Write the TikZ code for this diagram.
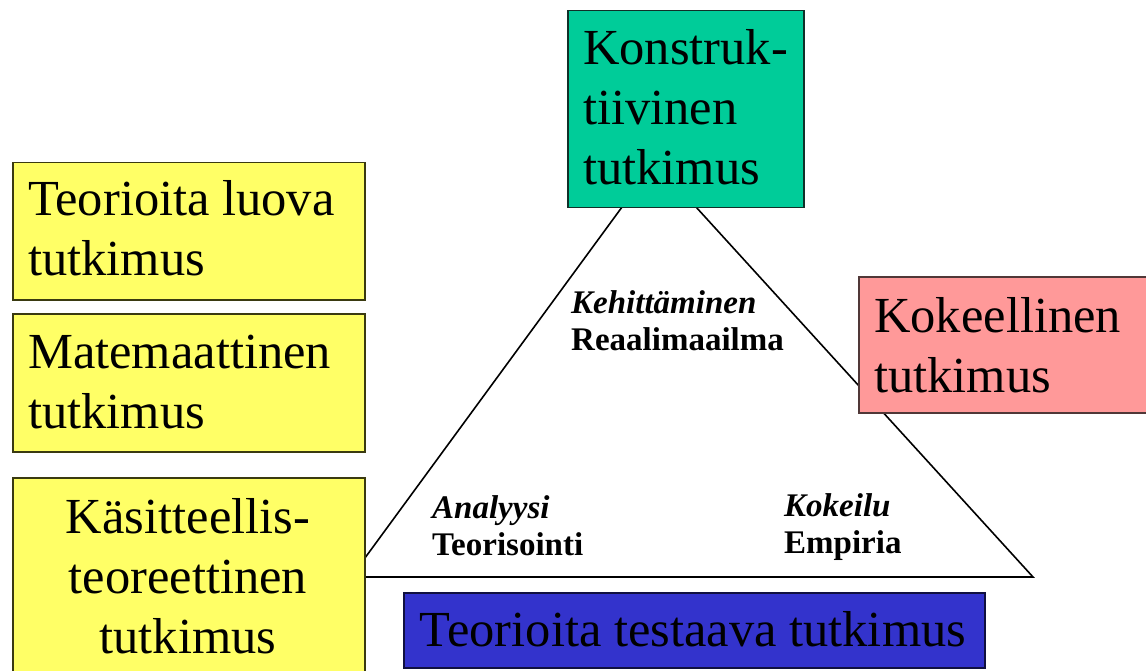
\documentclass[tikz,border=0pt]{standalone}
\usepackage{fontspec}
\setmainfont{Liberation Serif}
\definecolor{yfill}{HTML}{FFFF66}
\definecolor{yline}{HTML}{3A3A10}
\definecolor{gfill}{HTML}{00CC99}
\definecolor{gline}{HTML}{103028}
\definecolor{pfill}{HTML}{FF9999}
\definecolor{pline}{HTML}{503838}
\definecolor{bfill}{HTML}{3333CC}
\definecolor{bline}{HTML}{101040}
\newcommand{\lines}[2]{\begin{tabular}[t]{@{}#1@{}}#2\end{tabular}}
\begin{document}
\begin{tikzpicture}[x=1pt,y=-1pt,
  box/.style={line width=1.5pt, anchor=north west, inner sep=0pt},
  big/.style={inner sep=0pt, font=\fontsize{50.5}{60}\selectfont},
  small/.style={inner sep=0pt, font=\fontsize{33}{37}\selectfont\bfseries},
  tri/.style={line width=1.6pt, draw=black}]
\clip (0,0) rectangle (1146,671);
\fill[white] (0,0) rectangle (1146,671);
% triangle
\coordinate (apex) at (655,162);
\coordinate (tl) at (351,577);
\coordinate (tr) at (1033,577);
\draw[tri] (apex) -- (tl) -- (tr) -- cycle;
% boxes
\node[box, fill=yfill, draw=yline, minimum width=352pt, minimum height=137pt] (luova) at (12,162) {};
\node[box, fill=yfill, draw=yline, minimum width=352pt, minimum height=138pt] (mate) at (12,313) {};
\node[box, fill=yfill, draw=yline, minimum width=352pt, minimum height=220pt] (kasit) at (12,477) {};
\node[box, fill=gfill, draw=gline, minimum width=236pt, minimum height=197pt] (konst) at (567,10) {};
\node[box, fill=pfill, draw=pline, minimum width=300pt, minimum height=136pt] (kokeel) at (858,276) {};
\node[box, fill=bfill, draw=bline, minimum width=581pt, minimum height=75pt] (testaava) at (403,592) {};
% big texts
\node[big, anchor=base west] (luovat) at (28,216) {\lines{l}{Teorioita luova\\tutkimus}};
\node[big, anchor=base west] (matet) at (28,368) {\lines{l}{Matemaattinen\\tutkimus}};
\node[big, anchor=base] (kasitt) at (188,533) {\lines{c}{Käsitteellis-\\teoreettinen\\tutkimus}};
\node[big, anchor=base west] (konstt) at (583,65) {\lines{l}{Konstruk-\\tiivinen\\tutkimus}};
\node[big, anchor=base west] (kokeelt) at (874,332) {\lines{l}{Kokeellinen\\tutkimus}};
\node[big, anchor=base] (testaavat) at (693,646) {Teorioita testaava tutkimus};
% small labels
\node[small, anchor=base west] (kehit) at (571,313) {\lines{l}{\itshape Kehittäminen\\Reaalimaailma}};
\node[small, anchor=base west] (analyysi) at (432,518) {\lines{l}{\itshape Analyysi\\Teorisointi}};
\node[small, anchor=base west] (kokeilu) at (784,516) {\lines{l}{\itshape Kokeilu\\Empiria}};
\end{tikzpicture}
\end{document}
